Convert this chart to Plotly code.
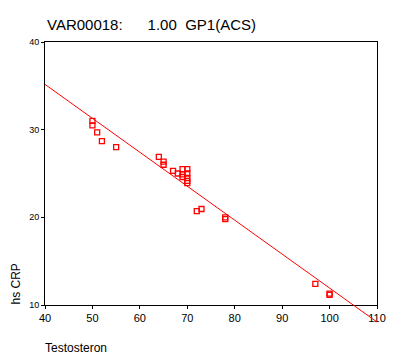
import numpy as np
import plotly.graph_objects as go

# Data
testosteron = [50, 50, 51, 52, 55, 64, 65, 65, 67, 68, 69, 70, 70, 69, 69,
               70, 70, 70, 72, 73, 78, 78, 97, 100, 100]
hs_crp = [31.0, 30.5, 29.7, 28.7, 28.0, 26.9, 26.35, 26.0, 25.3, 25.0, 25.5,
          25.5, 25.0, 24.9, 24.6, 24.5, 24.15, 23.9, 20.7, 20.95, 20.0, 19.8,
          12.4, 11.15, 11.3]
x_ticks = [40, 50, 60, 70, 80, 90, 100, 110]
y_ticks = [10, 20, 30, 40]
x_range = [40, 110]
y_range = [10, 40]

RED = "#ff0000"
FONT = "Liberation Sans, Arial, sans-serif"

fig = go.Figure()
fig.add_trace(go.Scatter(
    x=testosteron, y=hs_crp, mode="markers",
    marker=dict(symbol="square-open", size=5, color=RED, line=dict(width=1.3, color=RED)),
    cliponaxis=False, showlegend=False, hoverinfo="x+y"))

# Linear fit line (spans the x range, not clipped vertically, like SPSS)
slope, intercept = np.polyfit(testosteron, hs_crp, 1)
def to_frac(v, r):
    return (v - r[0]) / (r[1] - r[0])
fx0, fx1 = x_range
fy0, fy1 = slope * fx0 + intercept, slope * fx1 + intercept
fig.add_shape(type="line", xref="paper", yref="paper",
              x0=to_frac(fx0, x_range), x1=to_frac(fx1, x_range),
              y0=to_frac(fy0, y_range), y1=to_frac(fy1, y_range),
              line=dict(color=RED, width=1), layer="above")

axis_common = dict(showgrid=False, zeroline=False, showline=True, linecolor="black",
                   linewidth=1, mirror=True, ticks="outside", ticklen=3,
                   tickcolor="black", tickwidth=1)

fig.update_xaxes(range=x_range, tickvals=x_ticks, ticktext=[str(v) for v in x_ticks],
                 tickfont=dict(family=FONT, size=11, color="black"), **axis_common)
fig.update_yaxes(range=y_range, tickvals=y_ticks, ticktext=[str(v) for v in y_ticks],
                 tickfont=dict(family=FONT, size=9, color="black"), **axis_common)

NB = "\u00a0"
fig.add_annotation(text="VAR00018:" + NB * 6 + "1.00" + NB * 2 + "GP1(ACS)",
                   xref="paper", yref="paper", x=0, y=1, xanchor="left", yanchor="middle",
                   xshift=0, yshift=18, showarrow=False,
                   font=dict(family=FONT, size=15, color="black"))
fig.add_annotation(text="hs CRP", xref="paper", yref="paper", x=0, y=0,
                   xanchor="center", yanchor="bottom", textangle=-90,
                   xshift=-30, yshift=-2, showarrow=False,
                   font=dict(family=FONT, size=12, color="black"))
fig.add_annotation(text="Testosteron", xref="paper", yref="paper", x=0, y=0,
                   xanchor="left", yanchor="middle", xshift=-2, yshift=-43,
                   showarrow=False, font=dict(family=FONT, size=12, color="black"))

# The page body has a default 8px margin; size the figure so that the
# plot area lands where the reference has it.
fig.update_layout(width=387, height=348, margin=dict(l=37, r=9, t=34, b=51),
                  plot_bgcolor="white", paper_bgcolor="white",
                  font=dict(family=FONT, color="black"))

fig.write_html("out.html")
